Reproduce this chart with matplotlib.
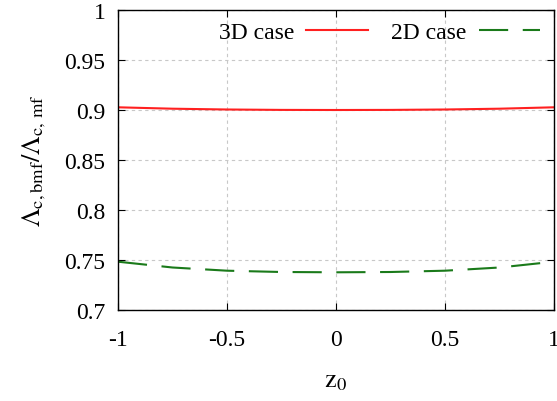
import numpy as np
import matplotlib.pyplot as plt

plt.rcParams['font.family'] = 'Liberation Serif'
plt.rcParams['mathtext.fontset'] = 'stix'

z0 = [-1.0, -0.75, -0.5, -0.25, 0.0, 0.25, 0.5, 0.75, 1.0]
ratio_3d = [0.9027, 0.9013, 0.9005, 0.9001, 0.9000, 0.9001, 0.9005, 0.9013, 0.9027]
ratio_2d = [0.7483, 0.7425, 0.7393, 0.7380, 0.7377, 0.7380, 0.7393, 0.7425, 0.7483]

fig = plt.figure(figsize=(5.57, 4.02), dpi=100)
ax = fig.add_axes([118/557, 1 - 311/402, (554-118)/557, 300/402])

ax.plot(z0, ratio_3d, color='#ff2020', lw=1.5, label='3D case')
ax.plot(z0, ratio_2d, color='#1a7a1a', lw=1.5, dashes=(14, 7), label='2D case')

ax.set_xlim(-1, 1)
ax.set_ylim(0.7, 1.0)
ax.set_xticks([-1, -0.5, 0, 0.5, 1])
ax.set_xticklabels(['-1', '-0.5', '0', '0.5', '1'])
ax.set_yticks([0.7, 0.75, 0.8, 0.85, 0.9, 0.95, 1.0])
ax.set_yticklabels(['0.7', '0.75', '0.8', '0.85', '0.9', '0.95', '1'])
ax.tick_params(direction='in', top=True, right=True, labelsize=17, length=5)
ax.tick_params(axis='x', pad=14)
ax.tick_params(axis='y', pad=9)
ax.grid(True, ls=(0, (3, 3)), color='#c8c8c8', lw=0.8)
for s in ax.spines.values():
    s.set_linewidth(1.0)

ax.set_xlabel(r'$\mathrm{z}_0$', fontsize=19, labelpad=14)
ax.set_ylabel(r'$\Lambda_{\mathrm{c,bmf}}/\Lambda_{\mathrm{c,\,mf}}$', fontsize=19, labelpad=12)

ax.legend(loc='upper right', ncol=2, markerfirst=False, frameon=False, fontsize=17,
          handlelength=2.6, columnspacing=1.0, handletextpad=0.5,
          borderaxespad=0.1, bbox_to_anchor=(0.995, 1.0))

fig.savefig('out.png', dpi=100)
